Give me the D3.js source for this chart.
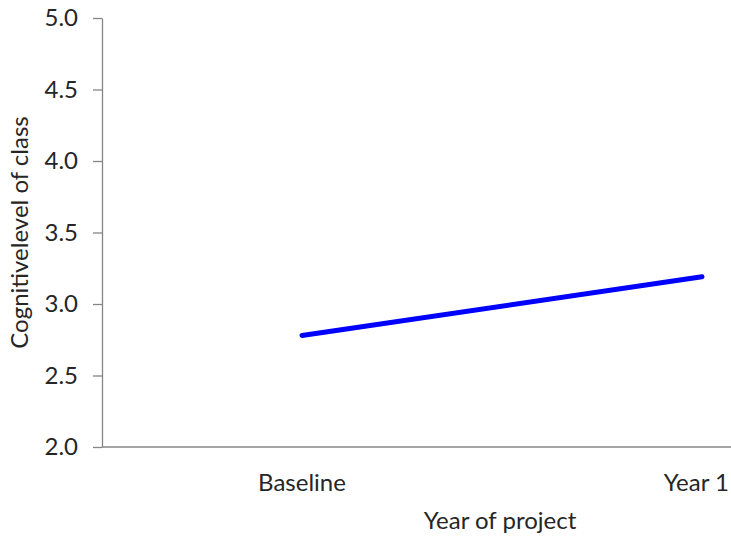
<!DOCTYPE html>
<html><head><meta charset="utf-8">
<script src="https://cdn.jsdelivr.net/npm/d3@7"></script>
<style>
html,body{margin:0;padding:0;background:#fff;overflow:hidden}
text{font-family:Lato,"Open Sans",sans-serif;fill:#262626}
</style></head>
<body>
<svg id="chart" width="731" height="538"></svg>
<script>
const categories = ["Baseline", "Year 1"];
const values = [2.78, 3.19];
const yTicks = [2.0, 2.5, 3.0, 3.5, 4.0, 4.5, 5.0];
const xTitle = "Year of project";
const yTitle = "Cognitivelevel of class";

const svg = d3.select("#chart");
const W = 731;
const mLeft = 102, mTop = 18, mBottom = 447, bandRight = 902;
const fs = "24px";

const x = d3.scaleBand().domain(categories).range([mLeft, bandRight]).padding(0);
const y = d3.scaleLinear().domain([2, 5]).range([mBottom, mTop]);

// Y axis
const yAxis = svg.append("g").attr("transform", `translate(${mLeft},0)`)
  .call(d3.axisLeft(y).tickValues(yTicks).tickFormat(d3.format(".1f")).tickSizeOuter(0).tickSizeInner(9).tickPadding(15));
yAxis.select(".domain").attr("stroke", "#868686").attr("stroke-width", 1.3);
yAxis.selectAll(".tick line").attr("stroke", "#868686").attr("stroke-width", 1.3);
yAxis.selectAll(".tick text").style("font-size", fs).attr("fill", "#262626").style("font-family", "Lato, sans-serif");

// X axis
svg.append("line").attr("x1", mLeft).attr("x2", W).attr("y1", mBottom).attr("y2", mBottom)
  .attr("stroke", "#868686").attr("stroke-width", 1.3);
svg.append("g").selectAll("text").data(categories).join("text")
  .attr("x", d => x(d) + x.bandwidth() / 2)
  .attr("y", 491)
  .attr("text-anchor", "middle")
  .style("font-size", fs)
  .text(d => d)
  .each(function (d) {
    const w = this.getComputedTextLength();
    const cx = x(d) + x.bandwidth() / 2;
    if (cx + w / 2 > W - 2) d3.select(this).attr("x", W - 2 - w / 2);
  });

// Line
const line = d3.line().x((d, i) => x(categories[i]) + x.bandwidth() / 2).y(d => y(d));
svg.append("path").datum(values).attr("d", line)
  .attr("fill", "none").attr("stroke", "#0000ff").attr("stroke-width", 5).attr("stroke-linecap", "round");

// Titles
svg.append("text").attr("x", 500).attr("y", 529).attr("text-anchor", "middle")
  .style("font-size", fs).text(xTitle);
svg.append("text").attr("transform", `translate(28,${(mTop + mBottom) / 2}) rotate(-90)`)
  .attr("text-anchor", "middle").style("font-size", fs).text(yTitle);
</script>
</body></html>
